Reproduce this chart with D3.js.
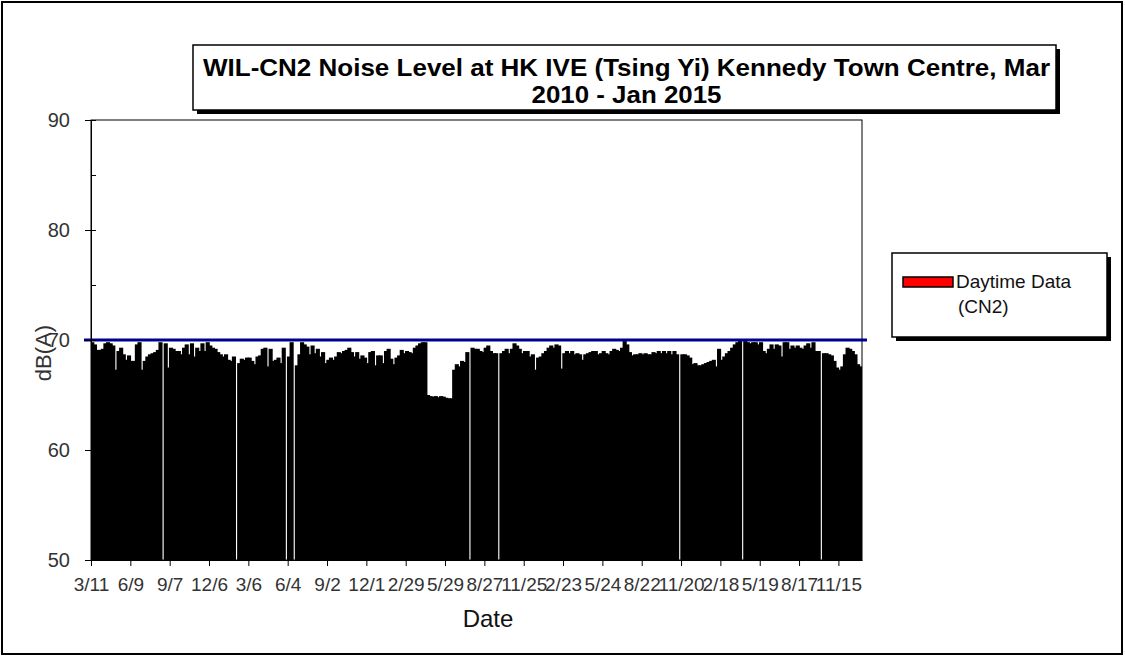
<!DOCTYPE html>
<html>
<head>
<meta charset="utf-8">
<title>WIL-CN2 Noise Level</title>
<script src="https://cdnjs.cloudflare.com/ajax/libs/d3/7.8.5/d3.min.js"></script>
<style>
    html, body { margin: 0; padding: 0; background: #fff; }
    svg { display: block; font-family: "Liberation Sans", Arial, Helvetica, sans-serif; }
</style>
</head>
<body>
<svg id="chart"></svg>
<script>
// daytime Leq readings, one every 6 days from 11 Mar 2010 (null = no reading)
var noiseLevels = [
    69.8, 69.6, 69.1, 69.1, 69.2, 69.7, 69.8, 69.7, 69.5, 67.3,
    69.0, 69.3, 68.7, 68.2, 68.6, 68.1, 68.1, 69.6, 69.8, 67.3,
    68.1, 68.5, 68.7, 68.8, 68.9, 69.1, 69.8, null, 69.7, 67.5,
    69.3, 69.2, 69.0, 69.0, 68.7, 69.3, 69.6, 68.7, 69.7, 68.5,
    69.3, 69.0, 69.7, 69.0, 69.8, 69.5, 69.3, 69.2, 68.9, 68.7,
    68.5, 68.7, 68.2, 68.1, 68.5, null, 67.9, 68.3, 68.2, 68.4,
    68.4, 68.1, 67.8, 68.5, 68.6, 69.2, 69.3, 67.6, 69.2, 68.1,
    68.2, 68.4, 67.9, 69.3, null, 68.5, 69.8, null, 67.7, 68.7,
    69.8, 69.6, 69.4, 68.7, 69.5, 68.8, 69.2, 68.5, 68.9, 67.9,
    68.2, 68.4, 68.2, 68.5, 68.9, 68.8, 69.0, 69.1, 69.3, 68.9,
    68.5, 68.9, 68.3, 68.6, 68.4, 67.9, 68.9, 69.0, 67.7, 68.6,
    68.6, 67.9, 69.0, 69.2, 68.3, 67.8, 68.4, 68.6, 69.1, 68.8,
    69.0, 68.9, 68.8, 69.3, 69.5, 69.7, 69.8, 69.8, 65.0, 64.9,
    64.85, 64.9, 64.8, 64.9, 64.85, 64.75, 64.7, 64.7, 67.3, 67.8,
    67.6, 68.1, 68.0, 68.9, null, 69.3, 69.2, 69.2, 69.0, 68.9,
    69.3, 69.5, 69.0, 68.8, 68.8, null, 68.8, 69.0, 69.2, 68.8,
    69.2, 69.7, 69.5, 69.2, 68.8, 69.0, 69.0, 68.5, 68.7, 67.3,
    68.4, 68.5, 68.8, 69.0, 69.3, 69.5, 69.3, 69.6, 69.5, 67.4,
    68.8, 69.0, 68.8, 69.0, 68.7, 68.8, 68.7, 68.2, 68.7, 68.8,
    68.9, 69.0, 69.0, 68.7, 68.8, 69.0, 68.8, 68.7, 69.0, 69.2,
    69.1, 69.0, 69.3, 69.9, 69.6, 68.9, 68.6, 68.7, 68.7, 68.8,
    68.7, 68.8, 68.7, 68.7, 68.9, 68.8, 69.0, 68.8, 69.0, 68.8,
    69.0, 68.7, 69.0, 68.7, null, 68.7, 68.7, 68.6, 68.4, 67.8,
    67.9, 67.7, 67.7, 67.8, 67.9, 68.0, 68.1, 68.2, 67.6, 69.2,
    68.2, 68.5, 68.8, 69.0, 69.3, 69.6, 69.8, 69.9, null, 69.9,
    69.8, 69.7, 69.8, 69.8, 69.6, 69.8, 69.0, 68.8, 69.2, 69.6,
    69.2, 69.6, 69.5, 68.5, 69.8, 69.8, 69.2, 69.5, 69.3, 69.5,
    69.3, 69.2, 69.5, 69.7, 69.3, 69.8, 69.0, 69.0, null, 68.8,
    68.8, 68.7, 68.6, 68.1, 67.5, 67.3, 67.6, 68.7, 69.3, 69.2,
    69.0, 68.7, 67.8, 67.6
];

// one label every 15 readings
var tickLabels = ["3/11", "6/9", "9/7", "12/6", "3/6", "6/4", "9/2", "12/1", "2/29", "5/29",
    "8/27", "11/25", "2/23", "5/24", "8/22", "11/20", "2/18", "5/19", "8/17", "11/15"];
var tickEvery = 15;

var yMajorTicks = [50, 60, 70, 80, 90];
var yMinorTicks = [55, 65, 75, 85];
var limitLevel = 70;

var titleLines = ["WIL-CN2 Noise Level at HK IVE (Tsing Yi) Kennedy Town Centre, Mar", "2010 - Jan 2015"];
var legendLines = ["Daytime Data", "(CN2)"];

var cfg = {
    width: 1125,
    height: 657,
    plot: { left: 91, top: 120, right: 862, bottom: 560 },
    title: { x: 193, y: 45, w: 863, h: 65 },
    legend: { x: 892, y: 253, w: 215, h: 84 },
    shadow: 4,
    limitColor: "#000090"
};

var svg = d3.select("#chart").attr("width", cfg.width).attr("height", cfg.height);

var x = d3.scaleLinear()
    .domain([0, noiseLevels.length])
    .range([cfg.plot.left, cfg.plot.right]);

var y = d3.scaleLinear()
    .domain([50, 90])
    .range([cfg.plot.bottom, cfg.plot.top]);

/**
 * box with a drop shadow (title / legend)
 */
var shadowBox = function (b) {
    svg.append("rect")
        .attr("x", b.x + cfg.shadow).attr("y", b.y + cfg.shadow)
        .attr("width", b.w).attr("height", b.h)
        .attr("fill", "#000");
    svg.append("rect")
        .attr("x", b.x).attr("y", b.y)
        .attr("width", b.w).attr("height", b.h)
        .attr("fill", "#fff").attr("stroke", "#000").attr("stroke-width", 1.5);
};

// outer frame
svg.append("rect")
    .attr("x", 2).attr("y", 2)
    .attr("width", cfg.width - 5).attr("height", cfg.height - 5)
    .attr("fill", "#fff").attr("stroke", "#000").attr("stroke-width", 2);

// clip so the widened bars stay inside the plot
svg.append("defs").append("clipPath").attr("id", "plot-clip")
    .append("rect")
    .attr("x", cfg.plot.left).attr("y", cfg.plot.top)
    .attr("width", cfg.plot.right - cfg.plot.left)
    .attr("height", cfg.plot.bottom - cfg.plot.top);

// bars
var step = x(1) - x(0);
svg.append("g")
    .attr("clip-path", "url(#plot-clip)")
    .selectAll("rect")
    .data(noiseLevels.map(function (v, i) { return { i: i, v: v }; })
        .filter(function (d) { return d.v !== null; }))
    .enter()
    .append("rect")
    .attr("x", function (d) { return x(d.i) - 0.75; })
    .attr("y", function (d) { return y(d.v); })
    .attr("width", step + 1.5)
    .attr("height", function (d) { return y(50) - y(d.v); })
    .attr("fill", "#000");

// plot frame
svg.append("rect")
    .attr("x", cfg.plot.left).attr("y", cfg.plot.top)
    .attr("width", cfg.plot.right - cfg.plot.left)
    .attr("height", cfg.plot.bottom - cfg.plot.top)
    .attr("fill", "none").attr("stroke", "#000").attr("stroke-width", 1);

// 70 dB(A) limit line
svg.append("line")
    .attr("x1", cfg.plot.left - 7).attr("x2", cfg.plot.right + 5)
    .attr("y1", y(limitLevel)).attr("y2", y(limitLevel))
    .attr("stroke", cfg.limitColor).attr("stroke-width", 3);

// y axis
var yAxis = svg.append("g")
    .attr("transform", "translate(" + cfg.plot.left + ",0)")
    .call(d3.axisLeft(y).tickValues(yMajorTicks).tickSizeInner(6).tickSizeOuter(0).tickPadding(15));
yAxis.selectAll("text").attr("font-size", 20).attr("fill", "#333").attr("font-family", null);
yAxis.selectAll("line").attr("stroke", "#000");
yAxis.select(".domain").attr("stroke", "#000");
// inner half of the major ticks and the minor ticks
svg.append("g")
    .attr("transform", "translate(" + cfg.plot.left + ",0)")
    .call(d3.axisRight(y).tickValues(yMajorTicks.concat(yMinorTicks)).tickSize(5).tickFormat(""))
    .call(function (g) { g.select(".domain").remove(); })
    .selectAll("line").attr("stroke", "#000");

// x axis
var xTickValues = tickLabels.map(function (t, k) { return k * tickEvery; });
var xAxis = svg.append("g")
    .attr("transform", "translate(0," + cfg.plot.bottom + ")")
    .call(d3.axisBottom(x).tickValues(xTickValues).tickSizeInner(6).tickSizeOuter(0).tickPadding(12)
        .tickFormat(function (d, k) { return tickLabels[k]; }));
xAxis.selectAll("text").attr("font-size", 19).attr("fill", "#333").attr("font-family", null);
xAxis.selectAll("line").attr("stroke", "#000");
xAxis.select(".domain").attr("stroke", "#000");

// axis titles
svg.append("text")
    .attr("transform", "translate(51,353) rotate(-90)")
    .attr("text-anchor", "middle")
    .attr("font-size", 22).attr("fill", "#333")
    .text("dB(A)");
svg.append("text")
    .attr("x", 488).attr("y", 627)
    .attr("text-anchor", "middle")
    .attr("font-size", 24).attr("fill", "#111")
    .text("Date");

// title
shadowBox(cfg.title);
svg.append("text")
    .attr("x", 626.5).attr("y", 76)
    .attr("text-anchor", "middle")
    .attr("font-size", 24).attr("font-weight", "bold")
    .attr("textLength", 847).attr("lengthAdjust", "spacingAndGlyphs")
    .text(titleLines[0]);
svg.append("text")
    .attr("x", 626.5).attr("y", 103)
    .attr("text-anchor", "middle")
    .attr("font-size", 24).attr("font-weight", "bold")
    .attr("textLength", 190).attr("lengthAdjust", "spacingAndGlyphs")
    .text(titleLines[1]);

// legend
shadowBox(cfg.legend);
svg.append("rect")
    .attr("x", 903).attr("y", 277).attr("width", 50).attr("height", 10)
    .attr("fill", "#ff0000").attr("stroke", "#000").attr("stroke-width", 1.5);
svg.selectAll(".legend-text")
    .data(legendLines)
    .enter()
    .append("text")
    .attr("class", "legend-text")
    .attr("x", function (d, i) { return i === 0 ? 956 : 958; })
    .attr("y", function (d, i) { return 288 + i * 25; })
    .attr("font-size", 19).attr("fill", "#111")
    .text(function (d) { return d; });
</script>
</body>
</html>
